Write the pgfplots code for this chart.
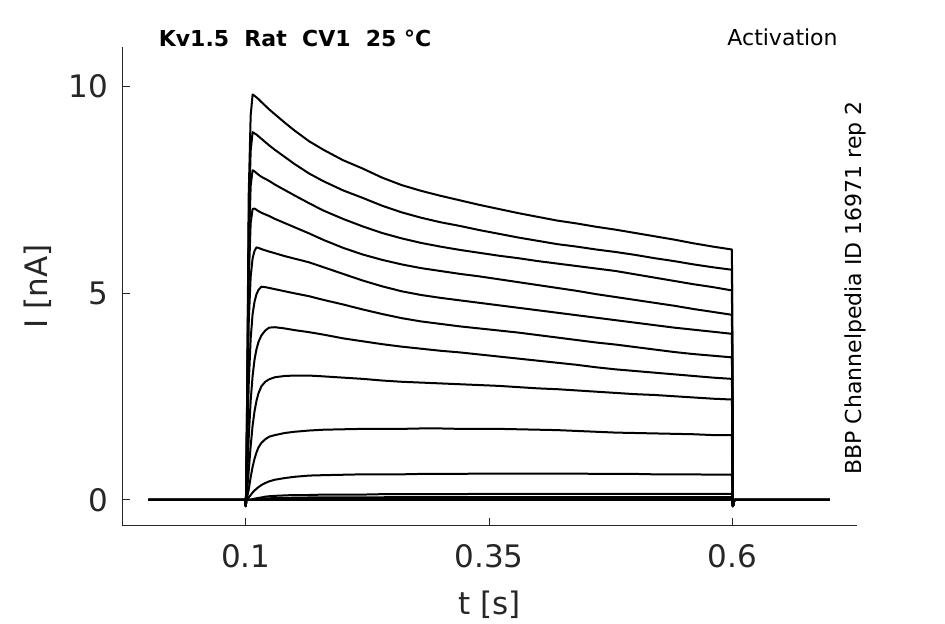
\documentclass[border=0pt]{standalone}
\usepackage{pgfplots}
\pgfplotsset{compat=1.18}
\usepackage{pgfplotstable}
\usepackage{fontspec}
\setmainfont{DejaVu Sans}
\definecolor{axgray}{RGB}{38,38,38}
\pgfplotstableread{
t      i1    i2    i3    i4    i5    i6    i7    i8    i9    i10   i11   i12   i13   i14
0.000  0.00  0.00  0.00  0.00  0.00  0.00  0.00  0.00  0.00  0.00  0.00  0.00  0.00  0.00
0.0995 0.00  0.00  0.00  0.00  0.00  0.00  0.00  0.00  0.00  0.00  0.00  0.00  0.00  0.00
0.1000 -0.15 -0.15 -0.15 -0.15 -0.15 -0.15 -0.15 -0.15 -0.15 -0.15 -0.15 -0.15 -0.15 -0.15
0.1005 0.50  0.45  0.40  0.35  0.30  0.20  0.10  0.05  0.00  0.00  0.00  0.00  0.00  0.00
0.1015 2.90  2.70  2.40  2.10  2.00  1.30  0.60  0.25  0.08  0.02  0.00  0.00  0.00  0.00
0.1030 7.40  6.70  6.00  5.30  4.30  2.80  1.50  0.70  0.25  0.06  0.005 0.00  0.00  0.00
0.1050 9.30  8.45  7.60  6.70  5.40  3.90  2.40  1.30  0.55  0.12  0.01  0.005 0.00  0.00
0.1070 9.81  8.90  7.98  7.04  5.85  4.50  3.00  1.80  0.80  0.18  0.02  0.01  0.005 0.00
0.1090 9.78  8.87  7.95  7.05  6.03  4.80  3.40  2.15  1.00  0.23  0.03  0.015 0.01  0.00
0.1110 9.74  8.84  7.91  7.02  6.11  4.98  3.65  2.40  1.15  0.27  0.04  0.02  0.01  0.00
0.1130 9.70  8.80  7.87  6.99  6.10  5.08  3.82  2.58  1.27  0.31  0.05  0.025 0.01  0.00
0.1160 9.63  8.74  7.82  6.95  6.07  5.16  3.98  2.75  1.38  0.36  0.06  0.03  0.015 0.00
0.1200 9.54  8.66  7.77  6.91  6.04  5.15  4.10  2.86  1.47  0.41  0.08  0.035 0.015 0.00
0.1240 9.45  8.58  7.72  6.87  6.01  5.13  4.17  2.92  1.53  0.45  0.09  0.04  0.02  0.00
0.1300 9.33  8.47  7.63  6.80  5.97  5.10  4.18  2.97  1.57  0.49  0.10  0.045 0.02  0.00
0.1400 9.13  8.30  7.50  6.70  5.90  5.05  4.15  3.00  1.62  0.53  0.11  0.05  0.02  0.00
0.1500 8.94  8.13  7.37  6.60  5.84  5.00  4.11  3.01  1.65  0.56  0.12  0.055 0.025 0.00
0.1650 8.68  7.90  7.18  6.45  5.75  4.93  4.06  3.01  1.68  0.59  0.12  0.06  0.025 0.00
0.1800 8.47  7.71  7.00  6.29  5.63  4.84  4.00  2.99  1.70  0.60  0.13  0.06  0.03  0.00
0.2000 8.22  7.49  6.80  6.10  5.47  4.73  3.91  2.96  1.71  0.61  0.13  0.06  0.03  0.00
0.2200 8.02  7.31  6.62  5.94  5.31  4.61  3.84  2.93  1.72  0.62  0.13  0.065 0.03  0.00
0.2400 7.80  7.12  6.46  5.81  5.17  4.50  3.77  2.89  1.72  0.62  0.14  0.065 0.03  0.00
0.2600 7.62  6.96  6.33  5.70  5.05  4.40  3.71  2.86  1.72  0.62  0.14  0.07  0.03  0.00
0.2800 7.48  6.83  6.22  5.61  4.96  4.32  3.66  2.84  1.73  0.63  0.14  0.07  0.03  0.00
0.3000 7.36  6.72  6.13  5.54  4.89  4.26  3.61  2.82  1.73  0.63  0.14  0.07  0.03  0.00
0.3200 7.25  6.63  6.05  5.47  4.83  4.20  3.57  2.80  1.72  0.63  0.14  0.07  0.03  0.00
0.3400 7.14  6.53  5.98  5.41  4.77  4.15  3.52  2.78  1.72  0.64  0.15  0.07  0.03  0.00
0.3600 7.04  6.44  5.91  5.34  4.71  4.10  3.47  2.76  1.72  0.64  0.15  0.07  0.03  0.00
0.3800 6.94  6.35  5.85  5.27  4.65  4.05  3.42  2.73  1.71  0.64  0.15  0.07  0.03  0.00
0.4000 6.85  6.27  5.78  5.20  4.59  3.99  3.37  2.70  1.70  0.64  0.15  0.07  0.03  0.00
0.4200 6.76  6.19  5.72  5.13  4.53  3.93  3.32  2.68  1.69  0.64  0.15  0.07  0.03  0.00
0.4400 6.69  6.13  5.66  5.06  4.47  3.87  3.27  2.65  1.67  0.64  0.15  0.07  0.03  0.00
0.4600 6.61  6.06  5.60  4.98  4.41  3.81  3.21  2.62  1.65  0.63  0.15  0.07  0.03  0.00
0.4800 6.54  6.00  5.54  4.91  4.35  3.76  3.16  2.59  1.63  0.63  0.15  0.07  0.03  0.00
0.5000 6.46  5.93  5.46  4.84  4.29  3.70  3.12  2.56  1.62  0.63  0.15  0.07  0.03  0.00
0.5200 6.38  5.85  5.38  4.77  4.23  3.64  3.08  2.54  1.61  0.62  0.15  0.07  0.03  0.00
0.5400 6.30  5.78  5.30  4.70  4.17  3.58  3.04  2.51  1.60  0.62  0.15  0.07  0.03  0.00
0.5600 6.21  5.70  5.22  4.62  4.12  3.53  3.00  2.48  1.59  0.62  0.15  0.07  0.03  0.00
0.5800 6.13  5.63  5.15  4.55  4.07  3.49  2.96  2.45  1.57  0.61  0.15  0.07  0.03  0.00
0.5995 6.06  5.57  5.07  4.48  4.02  3.45  2.93  2.43  1.57  0.61  0.15  0.07  0.03  0.00
0.6005 -0.15 -0.15 -0.15 -0.15 -0.15 -0.15 -0.15 -0.15 -0.15 -0.15 -0.15 -0.15 -0.15 -0.15
0.6020 0.00  0.00  0.00  0.00  0.00  0.00  0.00  0.00  0.00  0.00  0.00  0.00  0.00  0.00
0.7000 0.00  0.00  0.00  0.00  0.00  0.00  0.00  0.00  0.00  0.00  0.00  0.00  0.00  0.00
}\traces
\begin{document}
\begin{tikzpicture}[x=1pt,y=1pt]
\useasboundingbox (0,0) rectangle (472.5,312);
\begin{axis}[
  at={(61pt,49pt)}, anchor=south west,
  scale only axis, width=367.4pt, height=239.7pt,
  xmin=-0.0272, xmax=0.7278, ymin=-0.63, ymax=10.97,
  axis x line*=bottom, axis y line*=left,
  axis line style={axgray, line width=0.5pt, -},
  tick align=inside, major tick length=4pt,
  tick style={axgray, line width=0.5pt},
  xtick={0.1,0.35,0.6}, ytick={0,5,10},
  xticklabels={0.1,0.35,0.6}, yticklabels={0,5,10},
  ticklabel style={font=\fontsize{15.5}{18}\selectfont, text=axgray},
  xticklabel style={yshift=-5.8pt},
  yticklabel style={xshift=-3.3pt},
  /pgf/number format/assume math mode=true,
  clip=false,
]
\pgfplotsinvokeforeach{1,...,14}{
  \addplot[black, line width=1pt, line join=round] table[x=t, y=i#1]{\traces};
}
\end{axis}
\node[rotate=90, anchor=base, font=\fontsize{15.5}{18}\selectfont, text=axgray] at (24pt,168.8pt) {I [nA]};
\node[anchor=base, font=\fontsize{15.5}{18}\selectfont, text=axgray] at (244.7pt,4.5pt) {t [s]};
\node[anchor=base west, inner sep=0pt, font=\fontsize{11}{13}\selectfont\bfseries] at (79.2pt,288.7pt) {Kv1.5\ \ Rat\ \ CV1\ \ 25 °C};
\node[anchor=base east, inner sep=0pt, font=\fontsize{11}{13}\selectfont] at (419pt,289pt) {Activation};
\node[rotate=90, anchor=base, inner sep=0pt, font=\fontsize{11}{13}\selectfont] at (430.9pt,168pt) {BBP Channelpedia ID 16971 rep 2};
\end{tikzpicture}
\end{document}
